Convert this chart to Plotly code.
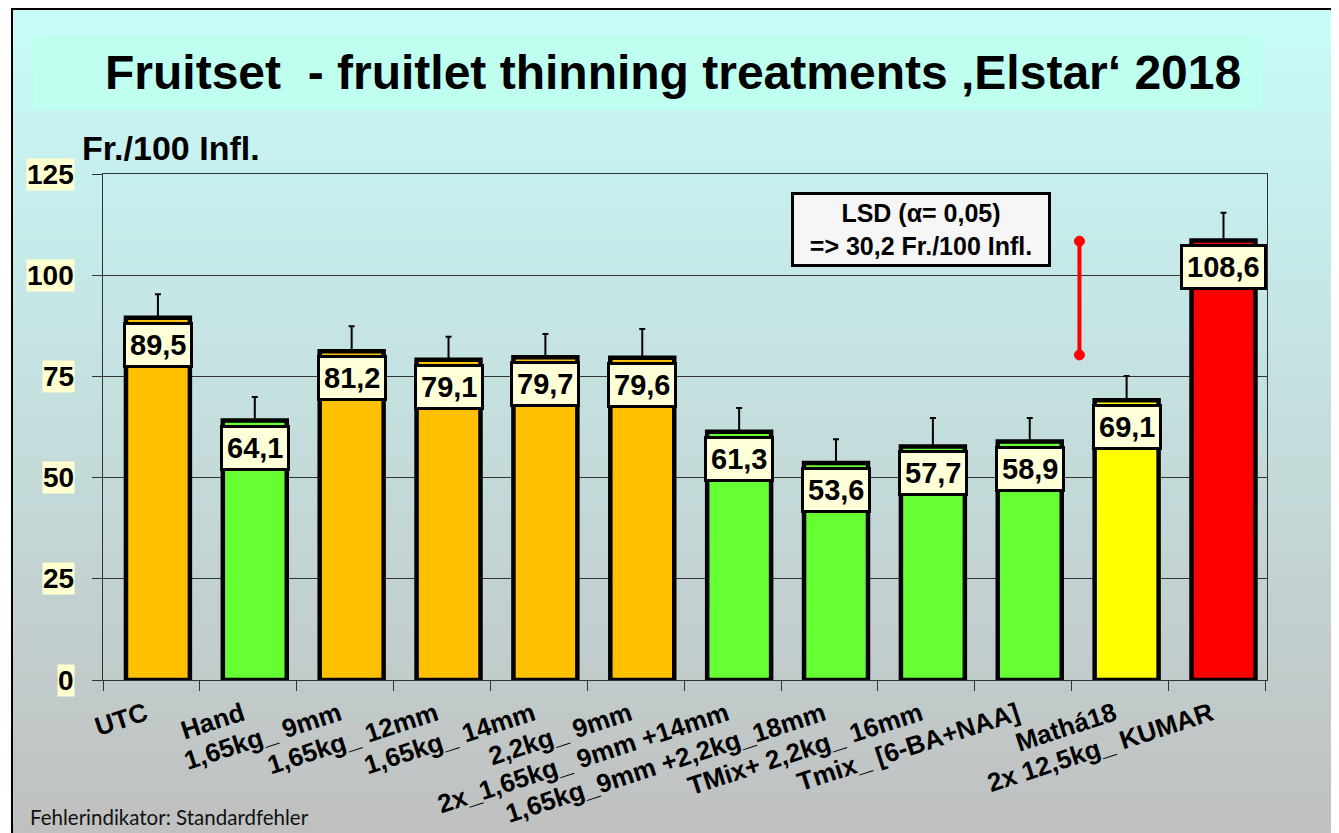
import plotly.graph_objects as go

# ---------------- data ----------------
categories = ["UTC", "Hand", "1,65kg_ 9mm", "1,65kg_ 12mm", "1,65kg_ 14mm", "2,2kg_ 9mm",
              "2x_1,65kg_ 9mm +14mm", "1,65kg_9mm +2,2kg_18mm", "TMix+ 2,2kg_ 16mm",
              "Tmix_ [6-BA+NAA]", "Mathá18", "2x 12,5kg_ KUMAR"]
fruitset = [89.5, 64.1, 81.2, 79.1, 79.7, 79.6, 61.3, 53.6, 57.7, 58.9, 69.1, 108.6]
std_err = [5.8, 5.8, 6.2, 5.7, 5.8, 7.1, 5.9, 5.9, 7.0, 5.8, 6.0, 6.8]
bar_colors = ["#FFC000", "#66FF33", "#FFC000", "#FFC000", "#FFC000", "#FFC000",
              "#66FF33", "#66FF33", "#66FF33", "#66FF33", "#FFFF00", "#FF0000"]
value_labels = ["89,5", "64,1", "81,2", "79,1", "79,7", "79,6", "61,3", "53,6", "57,7", "58,9", "69,1", "108,6"]
y_ticks = [0, 25, 50, 75, 100, 125]
lsd_value = 30.2
lsd_top = 108.4
lsd_bottom = 80.3
lsd_pos = 9.58  # category index position

# page has an 8px body margin; figure coordinates = reference pixels - 8
OFF = 8
W, H = 1339 - OFF, 833 - OFF
ML = 103 - OFF
MT = 174 - OFF
PW, PH = 1164, 506
MR = W - ML - PW
MB = H - MT - PH


def px_x(px):
    return (px - OFF - ML) / PW


def px_y(py):
    return (H - (py - OFF) - MB) / PH


BAR_W = 0.66
BAR_SHIFT = 0.067

fig = go.Figure()
fig.add_trace(go.Bar(
    x=categories, y=fruitset,
    width=BAR_W, offset=-BAR_W / 2 + BAR_SHIFT,
    marker=dict(color=bar_colors, line=dict(color="black", width=4.5)),
    error_y=dict(type="data", array=std_err, arrayminus=[0] * len(std_err), symmetric=False,
                 color="black", thickness=2, width=3),
    hoverinfo="x+y", showlegend=False,
))

shapes = []
# gradient background stripes
n = 90
top_px, bot_px = 8, 833
c0 = (200, 252, 250)
c1 = (192, 192, 192)
for i in range(n):
    y0 = top_px + (bot_px - top_px) * i / n
    y1 = top_px + (bot_px - top_px) * (i + 1) / n + 1
    t = (i + 0.5) / n
    col = tuple(round(c0[k] + (c1[k] - c0[k]) * t) for k in range(3))
    shapes.append(dict(type="rect", xref="paper", yref="paper", layer="below",
                       x0=px_x(12), x1=px_x(1345), y0=px_y(y1), y1=px_y(y0),
                       line=dict(width=0), fillcolor="rgb(%d,%d,%d)" % col))
# title box
shapes.append(dict(type="rect", xref="paper", yref="paper", layer="below",
                   x0=px_x(33), x1=px_x(1262), y0=px_y(110), y1=px_y(35),
                   line=dict(width=0), fillcolor="rgb(190,255,240)"))
# outer frame lines
shapes.append(dict(type="line", xref="paper", yref="paper", x0=px_x(12), x1=px_x(12),
                   y0=px_y(840), y1=px_y(8), line=dict(color="black", width=2)))
shapes.append(dict(type="line", xref="paper", yref="paper", x0=px_x(11), x1=px_x(1345),
                   y0=px_y(9), y1=px_y(9), line=dict(color="black", width=2)))
# LSD bar
shapes.append(dict(type="line", xref="x", yref="y", x0=lsd_pos, x1=lsd_pos,
                   y0=lsd_bottom, y1=lsd_top, line=dict(color="#FF0000", width=4)))
for yy in (lsd_bottom, lsd_top):
    shapes.append(dict(type="circle", xref="x", yref="y", xsizemode="pixel", ysizemode="pixel",
                       xanchor=lsd_pos, yanchor=yy, x0=-5, x1=5, y0=-5, y1=5,
                       fillcolor="#FF0000", line=dict(color="#FF0000", width=1)))

annotations = []
# value labels
for c, v, lab in zip(categories, fruitset, value_labels):
    annotations.append(dict(x=c, y=v, xref="x", yref="y", text="<b>%s</b>" % lab,
                            showarrow=False, yanchor="top", yshift=-4, xshift=BAR_SHIFT * PW / 12,
                            font=dict(family="Liberation Sans, Arial", size=29, color="black"),
                            bgcolor="#FFFFD8", bordercolor="black", borderwidth=3, borderpad=4))
# y tick labels with highlight
for t in y_ticks:
    annotations.append(dict(x=0, y=t, xref="paper", yref="y", xanchor="right", xshift=-28,
                            text="<b>%d</b>" % t, showarrow=False,
                            font=dict(family="Liberation Sans, Arial", size=28, color="black"),
                            bgcolor="#FFFFD0", borderpad=0))
# title
annotations.append(dict(x=px_x(673), y=px_y(72), xref="paper", yref="paper",
                        text="<b>Fruitset  - fruitlet thinning treatments \u201aElstar\u2018 2018</b>",
                        showarrow=False, xanchor="center", yanchor="middle",
                        font=dict(family="Liberation Sans, Arial", size=48, color="black")))
# y axis title
annotations.append(dict(x=px_x(80), y=px_y(148), xref="paper", yref="paper",
                        text="<b>Fr./100 Infl.</b>", showarrow=False, xanchor="left", yanchor="middle",
                        font=dict(family="Liberation Sans, Arial", size=34, color="black")))
# LSD box
annotations.append(dict(x=px_x(921), y=px_y(229), xref="paper", yref="paper",
                        text="<b>LSD (\u03b1= 0,05)<br>=> %s Fr./100 Infl.</b>" % str(lsd_value).replace(".", ","),
                        showarrow=False, xanchor="center", yanchor="middle",
                        font=dict(family="Liberation Sans, Arial", size=25, color="black"),
                        bgcolor="#F6F6F6", bordercolor="black", borderwidth=3, borderpad=4,
                        width=246))
# footer
annotations.append(dict(x=px_x(28), y=px_y(817), xref="paper", yref="paper",
                        text="Fehlerindikator: Standardfehler", showarrow=False,
                        xanchor="left", yanchor="middle",
                        font=dict(family="Lato, Open Sans", size=20.5, color="#111111")))

fig.update_layout(
    width=W, height=H,
    margin=dict(l=ML, r=MR, t=MT, b=MB, autoexpand=False),
    paper_bgcolor="white", plot_bgcolor="rgba(0,0,0,0)",
    shapes=shapes, annotations=annotations,
    xaxis=dict(type="category", tickson="boundaries", ticks="outside", ticklen=10,
               tickcolor="#333333", tickwidth=1, tickangle=-18,
               ticklabelstandoff=8, ticklabelshift=-6,
               tickfont=dict(family="Liberation Sans, Arial", size=26, color="black"),
               showline=True, linecolor="#333333", linewidth=1, mirror=True,
               showgrid=False),
    yaxis=dict(range=[0, 125], tickvals=y_ticks, showticklabels=False,
               ticks="outside", ticklen=10, tickcolor="#333333",
               showline=True, linecolor="#333333", linewidth=1, mirror=True,
               showgrid=True, gridcolor="#333333", gridwidth=1, zeroline=False),
    font=dict(family="Liberation Sans, Arial"),
)
fig.update_xaxes(ticktext=["<b>%s</b>" % c for c in categories], tickvals=categories)

fig.write_html("out.html")
